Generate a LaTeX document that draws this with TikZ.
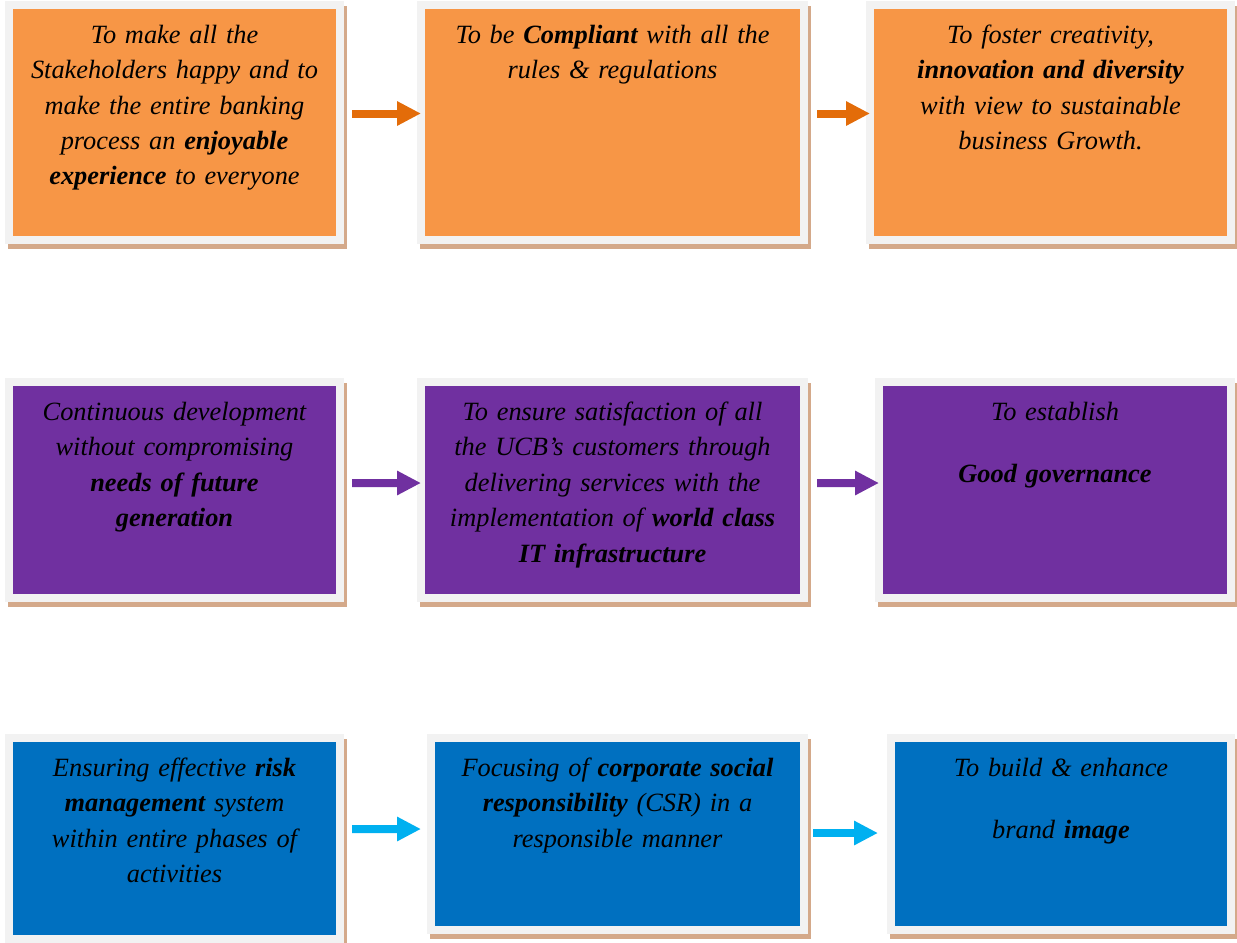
\documentclass[tikz,border=0pt]{standalone}
\usepackage{fontspec}
\setmainfont{Liberation Serif}
\usetikzlibrary{arrows.meta}
\definecolor{ucbOrange}{HTML}{F79646}
\definecolor{ucbPurple}{HTML}{7030A0}
\definecolor{ucbBlue}{HTML}{0070C0}
\definecolor{frameGray}{HTML}{F2F2F2}
\definecolor{shadowTan}{HTML}{D4A98A}
\definecolor{arrOrange}{HTML}{E36C09}
\definecolor{arrBlue}{HTML}{00B0F0}
\tikzset{
	goal/.style={draw=frameGray,line width=0.16cm,inner sep=0pt,outer sep=0pt,align=center,
		preaction={draw=shadowTan,fill=shadowTan,transform canvas={shift={(0.06,-0.10)}}},
		font=\itshape\fontsize{15}{20.2}\selectfont,text height=0.76cm},
	flow/.style={line width=0.16cm,-{Triangle[length=0.48cm,width=0.46cm]}}
}
\begin{document}
\begin{tikzpicture}
		\useasboundingbox (0,0) rectangle (24.74,-18.84);
		\node [goal,fill=ucbOrange,text width=6.62cm,text depth=3.94cm] (b11) at (3.49,-2.45) {To make all the\\ Stakeholders happy and to\\ make the entire banking\\ process an \textbf{enjoyable}\\ \textbf{experience} to everyone};
		\node [goal,fill=ucbOrange,text width=7.66cm,text depth=3.94cm] (b12) at (12.25,-2.45) {To be \textbf{Compliant} with all the\\ rules \& regulations};
		\node [goal,fill=ucbOrange,text width=7.22cm,text depth=3.94cm] (b13) at (21.01,-2.45) {To foster creativity,\\ \textbf{innovation and diversity}\\ with view to sustainable\\ business Growth.};
		\node [goal,fill=ucbPurple,text width=6.62cm,text depth=3.56cm] (b21) at (3.49,-9.80) {Continuous development\\ without compromising\\ \textbf{needs of future}\\ \textbf{generation}};
		\node [goal,fill=ucbPurple,text width=7.66cm,text depth=3.56cm] (b22) at (12.25,-9.80) {To ensure satisfaction of all\\ the UCB’s customers through\\ delivering services with the\\ implementation of \textbf{world class}\\ \textbf{IT infrastructure}};
		\node [goal,fill=ucbPurple,text width=7.04cm,text depth=3.56cm] (b23) at (21.10,-9.80) {To establish\\[0.54cm] \textbf{Good governance}};
		\node [goal,fill=ucbBlue,text width=6.62cm,text depth=3.26cm] (b31) at (3.49,-16.77) {Ensuring effective \textbf{risk}\\ \textbf{management} system\\ within entire phases of\\ activities};
		\node [goal,fill=ucbBlue,text width=7.46cm,text depth=3.08cm] (b32) at (12.35,-16.68) {Focusing of \textbf{corporate social}\\ \textbf{responsibility} (CSR) in a\\ responsible manner};
		\node [goal,fill=ucbBlue,text width=6.80cm,text depth=3.08cm] (b33) at (21.22,-16.68) {To build \& enhance\\[0.54cm] brand \textbf{image}};
		\draw [flow,arrOrange] ([shift={(0.24,0.18)}]b11.east) -- ([yshift=0.18cm]b12.west);
		\draw [flow,arrOrange] ([shift={(0.26,0.18)}]b12.east) -- ([yshift=0.18cm]b13.west);
		\draw [flow,ucbPurple] ([shift={(0.24,0.14)}]b21.east) -- ([yshift=0.14cm]b22.west);
		\draw [flow,ucbPurple] ([shift={(0.26,0.14)}]b22.east) -- ([yshift=0.14cm]b23.west);
		\draw [flow,arrBlue] ([shift={(0.24,0.19)}]b31.east) -- ([shift={(-0.2,0.10)}]b32.west);
		\draw [flow,arrBlue] ([shift={(0.18,0.02)}]b32.east) -- ([shift={(-0.26,0.02)}]b33.west);
		\end{tikzpicture}
\end{document}
